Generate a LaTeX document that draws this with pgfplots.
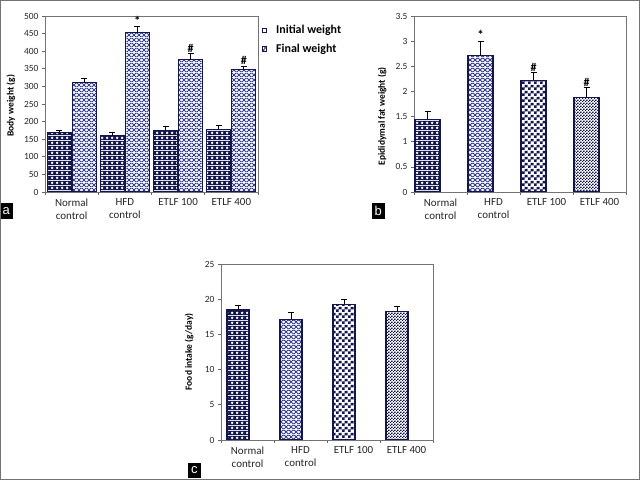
\documentclass[border=0pt]{standalone}
\usepackage{pgfplots}
\pgfplotsset{compat=1.18}
\usepackage{fontspec}
\setmainfont{Carlito}
\newfontfamily\arialf{Liberation Sans}
\usetikzlibrary{patterns}

\definecolor{navyc}{RGB}{18,22,75}
\definecolor{latc}{RGB}{55,65,140}

% white dots on navy
\pgfdeclarepatterninherentlycolored{wdots}{\pgfpointorigin}{\pgfqpoint{5bp}{5bp}}{\pgfqpoint{5bp}{5bp}}{%
  \pgfsetfillcolor{navyc}%
  \pgfpathrectangle{\pgfpointorigin}{\pgfqpoint{5bp}{5bp}}\pgfusepath{fill}%
  \pgfsetfillcolor{white}%
  \pgfpathcircle{\pgfqpoint{2.5bp}{2.5bp}}{1.6bp}\pgfusepath{fill}%
}
% light lattice
\pgfdeclarepatterninherentlycolored{lattice}{\pgfpointorigin}{\pgfqpoint{4.5bp}{4.5bp}}{\pgfqpoint{4.5bp}{4.5bp}}{%
  \pgfsetfillcolor{white}%
  \pgfpathrectangle{\pgfpointorigin}{\pgfqpoint{4.5bp}{4.5bp}}\pgfusepath{fill}%
  \pgfsetstrokecolor{latc}\pgfsetlinewidth{1bp}%
  \pgfpathmoveto{\pgfqpoint{0bp}{0bp}}\pgfpathlineto{\pgfqpoint{4.5bp}{4.5bp}}%
  \pgfpathmoveto{\pgfqpoint{0bp}{4.5bp}}\pgfpathlineto{\pgfqpoint{4.5bp}{0bp}}%
  \pgfusepath{stroke}%
}
% checker
\pgfdeclarepatterninherentlycolored{checker}{\pgfpointorigin}{\pgfqpoint{6bp}{6bp}}{\pgfqpoint{6bp}{6bp}}{%
  \pgfsetfillcolor{white}%
  \pgfpathrectangle{\pgfpointorigin}{\pgfqpoint{6bp}{6bp}}\pgfusepath{fill}%
  \pgfsetfillcolor{navyc}%
  \pgfpathrectangle{\pgfpointorigin}{\pgfqpoint{3bp}{3bp}}%
  \pgfpathrectangle{\pgfqpoint{3bp}{3bp}}{\pgfqpoint{3bp}{3bp}}\pgfusepath{fill}%
}
% fine checker
\pgfdeclarepatterninherentlycolored{finechecker}{\pgfpointorigin}{\pgfqpoint{3bp}{3bp}}{\pgfqpoint{3bp}{3bp}}{%
  \pgfsetfillcolor{white}%
  \pgfpathrectangle{\pgfpointorigin}{\pgfqpoint{3bp}{3bp}}\pgfusepath{fill}%
  \pgfsetfillcolor{navyc}%
  \pgfpathrectangle{\pgfpointorigin}{\pgfqpoint{1.5bp}{1.5bp}}%
  \pgfpathrectangle{\pgfqpoint{1.5bp}{1.5bp}}{\pgfqpoint{1.5bp}{1.5bp}}\pgfusepath{fill}%
}

\pgfplotsset{
  bstyle/.style={
    scale only axis, height=176bp,
    xmin=-0.5, xmax=3.5, ymin=0,
    xtick={0,1,2,3},
    xticklabels={{Normal\\control},{HFD\\control},{ETLF 100},{ETLF 400}},
    xticklabel style={align=center, font=\fontsize{11}{13}\selectfont, text=black!85},
    major x tick style={draw=none},
    minor xtick={-0.5,0.5,1.5,2.5,3.5},
    minor x tick style={black!60, line width=0.6bp},
    minor tick length=3bp,
    major tick length=3bp,
    tick align=outside,
    xtick pos=bottom, ytick pos=left,
    ytick style={black!60, line width=0.6bp},
    yticklabel style={font=\fontsize{9.5}{10}\selectfont, text=black!85},
    /pgf/number format/assume math mode=true,
    axis line style={black!55, line width=0.7bp},
    ylabel style={font=\bfseries\fontsize{9.5}{10}\selectfont, anchor=center},
    ybar,
    error bars/y dir=plus, error bars/y explicit,
    error bars/error bar style={black, line width=0.8bp},
    error bars/error mark options={black, line width=0.8bp, mark size=3bp, rotate=90},
  },
  barst/.style={draw=navyc, line width=1.1bp},
}

\begin{document}
\begin{tikzpicture}
\useasboundingbox (0,0) rectangle (640bp,480bp);

% ---------- panel a ----------
\begin{axis}[bstyle, at={(45bp,288bp)}, anchor=south west, width=213bp,
  ymax=500, ytick={0,50,...,500}, bar width=24bp,
  ylabel={Body weight (g)},
  ylabel style={at={(axis description cs:-0.16,0.49)}}]
\addplot[barst, pattern=wdots, bar shift=-12.5bp] coordinates
  {(0,168) +- (0,8) (1,160) +- (0,8) (2,175) +- (0,11) (3,177) +- (0,13)};
\addplot[barst, pattern=lattice, bar shift=12.5bp] coordinates
  {(0,311) +- (0,13) (1,452) +- (0,18) (2,376) +- (0,18) (3,347) +- (0,11)};
\node[anchor=south, inner sep=1bp, font=\bfseries\fontsize{13}{13}\selectfont, xshift=12.5bp] at (axis cs:1,470) {*};
\node[anchor=south, inner sep=1bp, font=\bfseries\fontsize{12}{12}\selectfont, xshift=12.5bp] at (axis cs:2,394) {\#};
\node[anchor=south, inner sep=1bp, font=\bfseries\fontsize{12}{12}\selectfont, xshift=12.5bp] at (axis cs:3,358) {\#};
\end{axis}

% legend a
\draw[navyc, line width=0.8bp, fill=white] (262bp,447.5bp) rectangle (266.5bp,452bp);
\draw[navyc, line width=0.8bp, pattern=lattice] (262bp,429bp) rectangle (266.5bp,433.5bp);
\node[anchor=west, inner sep=0pt, font=\bfseries\fontsize{12}{12}\selectfont] at (276bp,449.5bp) {Initial weight};
\node[anchor=west, inner sep=0pt, font=\bfseries\fontsize{12}{12}\selectfont] at (276bp,431bp) {Final weight};

% ---------- panel b ----------
\begin{axis}[bstyle, at={(414bp,288bp)}, anchor=south west, width=212bp,
  ymax=3.5, ytick={0,0.5,...,3.5}, bar width=25bp,
  yticklabel style={/pgf/number format/fixed},
  ylabel={Epididymal fat weight (g)},
  ylabel style={at={(axis description cs:-0.15,0.43)}}]
\addplot[barst, pattern=wdots, bar shift=-13bp] coordinates {(0,1.45) +- (0,0.15)};
\addplot[barst, pattern=lattice, bar shift=-13bp] coordinates {(1,2.71) +- (0,0.29)};
\addplot[barst, pattern=checker, bar shift=-13bp] coordinates {(2,2.22) +- (0,0.15)};
\addplot[barst, pattern=finechecker, bar shift=-13bp] coordinates {(3,1.88) +- (0,0.20)};
\node[anchor=south, inner sep=1bp, font=\bfseries\fontsize{13}{13}\selectfont, xshift=-13bp] at (axis cs:1,3.0) {*};
\node[anchor=south, inner sep=1bp, font=\bfseries\fontsize{12}{12}\selectfont, xshift=-13bp] at (axis cs:2,2.37) {\#};
\node[anchor=south, inner sep=1bp, font=\bfseries\fontsize{12}{12}\selectfont, xshift=-13bp] at (axis cs:3,2.08) {\#};
\end{axis}

% ---------- panel c ----------
\begin{axis}[bstyle, at={(221bp,40bp)}, anchor=south west, width=212bp,
  ymax=25, ytick={0,5,...,25}, bar width=22bp,
  ylabel={Food intake (g/day)},
  ylabel style={at={(axis description cs:-0.15,0.5)}}]
\addplot[barst, pattern=wdots, bar shift=-9.5bp] coordinates {(0,18.47) +- (0,0.6)};
\addplot[barst, pattern=lattice, bar shift=-9.5bp] coordinates {(1,17.14) +- (0,0.95)};
\addplot[barst, pattern=checker, bar shift=-9.5bp] coordinates {(2,19.3) +- (0,0.7)};
\addplot[barst, pattern=finechecker, bar shift=-9.5bp] coordinates {(3,18.3) +- (0,0.65)};
\end{axis}

% panel letters
\fill[black] (0bp,261bp) rectangle (12.5bp,277bp);
\node[text=white, font=\arialf\fontsize{13}{13}\selectfont] at (6.25bp,269bp) {a};
\fill[black] (372bp,261bp) rectangle (384.5bp,277bp);
\node[text=white, font=\arialf\fontsize{13}{13}\selectfont] at (378.25bp,269bp) {b};
\fill[black] (188bp,2bp) rectangle (200.5bp,17bp);
\node[text=white, font=\arialf\fontsize{13}{13}\selectfont] at (194.25bp,9.5bp) {c};

% outer frame
\draw[black!55, line width=1bp] (0.5bp,0.5bp) rectangle (639.5bp,479.5bp);
\end{tikzpicture}
\end{document}
